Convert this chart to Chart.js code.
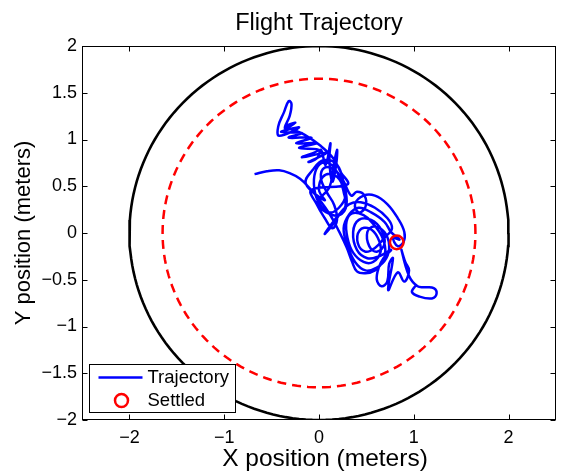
<!DOCTYPE html>
<html><head><meta charset="utf-8">
<script src="https://cdn.jsdelivr.net/npm/chart.js@4.4.0/dist/chart.umd.min.js"></script>
<style>html,body{margin:0;padding:0;background:#fff;} #wrap{width:561px;height:472px;}</style>
</head><body><div id="wrap"><canvas id="c" width="561" height="472"></canvas></div>
<script>
// Trajectory (meters)
const trajX = [-0.68,-0.55,-0.42,-0.31,-0.20,-0.10,0.01,0.12,0.21,0.29,0.35,0.40,
 0.49,0.59,0.67,0.70,0.66,0.57,0.47,0.35,0.29,0.30,0.36,0.47,0.57,0.65,0.62,0.53,0.43,0.41,0.49,0.59,
 0.69,0.77,0.72,0.59,0.44,0.32,0.23,0.15,0.06,
 0.13,0.21,0.28,0.26,0.21,0.13,0.03,-0.04,-0.05,0.00,0.11,0.21,0.28,0.23,0.14,0.04,0.00,0.06,
 -0.14,-0.07,0.05,0.19,0.26,0.29,0.21,0.08,-0.02,
 0.11,0.15,0.19,0.18,0.14,0.11,0.12,0.07,0.02,-0.02,
 -0.11,0.08,-0.18,0.00,-0.21,-0.03,-0.24,-0.08,-0.32,-0.18,-0.40,-0.21,-0.42,-0.43,-0.37,-0.32,-0.29,-0.31,-0.36,-0.25,-0.34,
 -0.15,0.02,0.15,0.23,0.30,
 -0.08,-0.02,0.06,0.14,0.19,0.16,0.08,0.02,0.06,0.17,0.25,
 0.34,0.40,0.48,0.49,0.42,0.38,0.47,0.59,0.72,0.83,0.90,0.89,0.83,0.78,0.85,
 0.76,0.69,0.55,0.42,0.32,0.26,0.30,0.38,0.49,0.61,0.71,0.74,0.69,0.58,0.51,0.53,0.61,0.69,0.66,0.55,0.42,0.36,0.40,0.51,0.63,
 0.76,0.68,0.63,0.61,0.66,0.72,0.74,0.78,0.73,0.83,0.90,0.95,0.91,0.87,0.95,1.04,1.12,1.21,1.24,1.19,1.06,0.98,1.03];
const trajY = [0.63,0.66,0.67,0.64,0.58,0.48,0.35,0.19,0.02,-0.15,-0.31,-0.41,
 -0.43,-0.40,-0.31,-0.18,-0.03,0.10,0.19,0.21,0.12,-0.05,-0.21,-0.31,-0.31,-0.20,-0.05,0.05,0.03,-0.11,-0.20,-0.16,
 -0.05,0.05,0.16,0.27,0.33,0.31,0.22,0.12,-0.01,
 0.07,0.19,0.29,0.44,0.61,0.73,0.75,0.65,0.48,0.32,0.22,0.27,0.40,0.55,0.63,0.60,0.46,0.35,
 0.53,0.67,0.78,0.73,0.53,0.30,0.19,0.22,0.32,
 0.49,0.70,0.89,0.72,0.55,0.78,0.96,0.73,0.89,0.80,
 0.76,0.86,0.81,0.89,0.91,0.96,0.96,1.02,1.02,1.07,1.08,1.13,1.04,1.14,1.29,1.41,1.38,1.25,1.12,1.18,1.14,
 1.05,0.93,0.80,0.65,0.52,
 0.46,0.30,0.16,0.05,0.14,0.30,0.44,0.59,0.70,0.67,0.57,
 0.40,0.44,0.40,0.28,0.22,0.31,0.40,0.40,0.31,0.16,0.01,-0.10,-0.14,-0.05,-0.07,
 0.01,0.12,0.22,0.27,0.20,0.05,-0.13,-0.31,-0.40,-0.37,-0.27,-0.13,0.01,0.07,0.01,-0.14,-0.20,-0.12,0.03,0.14,0.14,0.01,-0.18,-0.27,-0.25,
 -0.18,-0.27,-0.37,-0.50,-0.57,-0.52,-0.33,-0.27,-0.61,-0.42,-0.52,-0.40,-0.31,-0.18,-0.46,-0.57,-0.58,-0.59,-0.65,-0.70,-0.68,-0.63,-0.55];
const settledX = [0.82];
const settledY = [-0.10];
const boundaryRadius = 2.0;
const safeRadius = 1.65;
const xTicks = [-2,-1,0,1,2];
const yTicks = [-2,-1.5,-1,-0.5,0,0.5,1,1.5,2];
const seriesNames = ['Trajectory','Settled'];
const chartTitle = 'Flight Trajectory';
const xTitle = 'X position (meters)';
const yTitle = 'Y position (meters)';

const FONT = '"Liberation Sans", Arial, Helvetica, sans-serif';

function circlePts(r){
  const pts=[];
  for(let k=0;k<=180;k++){const a=k*2*Math.PI/180; pts.push({x:r*Math.cos(a), y:r*Math.sin(a)});}
  return pts;
}
const fmt = v => (v<0 ? '\u2212'+Math.abs(v) : String(v));

const frameTicks = {
  id:'frameTicks',
  afterDatasetsDraw(chart){
    const {ctx, chartArea:a, scales:{x,y}} = chart;
    ctx.save();
    ctx.strokeStyle='#000'; ctx.lineWidth=1;
    const L=Math.round(a.left)+0.5, R=Math.round(a.right)-0.5, T=Math.round(a.top)+0.5, B=Math.round(a.bottom)-0.5;
    ctx.strokeRect(L,T,R-L,B-T);
    ctx.beginPath();
    const tl=5;
    xTicks.forEach(v=>{const p=Math.round(x.getPixelForValue(v))+0.5; ctx.moveTo(p,B); ctx.lineTo(p,B-tl); ctx.moveTo(p,T); ctx.lineTo(p,T+tl);});
    yTicks.forEach(v=>{const p=Math.round(y.getPixelForValue(v))+0.5; ctx.moveTo(L,p); ctx.lineTo(L+tl,p); ctx.moveTo(R,p); ctx.lineTo(R-tl,p);});
    ctx.stroke();
    ctx.restore();
  },
  afterDraw(chart){
    const {ctx, chartArea:a} = chart;
    ctx.save();
    ctx.fillStyle='#000'; ctx.font='23.5px '+FONT; ctx.textAlign='center'; ctx.textBaseline='alphabetic';
    ctx.fillText(chartTitle, (a.left+a.right)/2, 30);
    ctx.font='24.5px '+FONT;
    ctx.fillText(xTitle, (a.left+a.right)/2 + 6, 466);
    const bx=Math.round(a.left)+7.5, by=Math.round(a.bottom)-55.5, bw=146, bh=48;
    ctx.fillStyle='#fff'; ctx.fillRect(bx,by,bw,bh);
    ctx.strokeStyle='#000'; ctx.lineWidth=1; ctx.strokeRect(bx,by,bw,bh);
    const ds = chart.data.datasets;
    ctx.strokeStyle=ds[0].borderColor; ctx.lineWidth=2.5;
    ctx.beginPath(); ctx.moveTo(bx+9,by+13); ctx.lineTo(bx+53,by+13); ctx.stroke();
    ctx.strokeStyle=ds[1].pointBorderColor; ctx.lineWidth=2.5;
    ctx.beginPath(); ctx.arc(bx+32,by+36,6.5,0,2*Math.PI); ctx.stroke();
    ctx.fillStyle='#000'; ctx.font='18.5px '+FONT; ctx.textBaseline='middle'; ctx.textAlign='left';
    ctx.fillText(seriesNames[0], bx+58, by+13);
    ctx.fillText(seriesNames[1], bx+58, by+36);
    ctx.restore();
  }
};

new Chart(document.getElementById('c'), {
  type:'scatter',
  data:{datasets:[
    {label:seriesNames[0], data:trajX.map((v,i)=>({x:v,y:trajY[i]})), showLine:true, borderColor:'#0000ff', borderWidth:2.5, pointRadius:0, pointHoverRadius:0, tension:0.4, order:1},
    {label:seriesNames[1], data:settledX.map((v,i)=>({x:v,y:settledY[i]})), pointRadius:6.8, pointHoverRadius:6.8, pointBorderWidth:2.5, pointBorderColor:'#ff0000', pointBackgroundColor:'rgba(0,0,0,0)', borderColor:'#ff0000', order:0},
    {label:'safe', data:circlePts(safeRadius), showLine:true, borderColor:'#ff0000', borderWidth:2.5, borderDash:[9,6], pointRadius:0, pointHoverRadius:0, tension:0, order:2},
    {label:'boundary', data:circlePts(boundaryRadius), showLine:true, borderColor:'#000000', borderWidth:2.6, pointRadius:0, pointHoverRadius:0, tension:0, order:3}
  ]},
  options:{
    responsive:false, animation:false, devicePixelRatio:1, events:[],
    layout:{autoPadding:false, padding:{left:0,right:5,top:46,bottom:0}},
    plugins:{ legend:{display:false}, tooltip:{enabled:false}, title:{display:false} },
    scales:{
      x:{type:'linear', min:-2.5, max:2.5,
        afterBuildTicks:s=>{s.ticks=xTicks.map(v=>({value:v}));},
        afterFit:s=>{s.height=52; s.paddingLeft=0; s.paddingRight=0;},
        grid:{display:false, drawTicks:false}, border:{display:false},
        ticks:{padding:7, color:'#000', autoSkip:false, maxRotation:0, font:{family:FONT,size:18}, callback:fmt},
        title:{display:false, text:xTitle}
      },
      y:{type:'linear', min:-2, max:2,
        afterBuildTicks:s=>{s.ticks=yTicks.map(v=>({value:v}));},
        afterFit:s=>{s.width=82; s.paddingTop=0; s.paddingBottom=0;},
        grid:{display:false, drawTicks:false}, border:{display:false},
        ticks:{padding:5, color:'#000', autoSkip:false, font:{family:FONT,size:18}, callback:fmt},
        title:{display:true, text:yTitle, color:'#000', font:{family:FONT,size:22,lineHeight:1}, padding:{top:13,bottom:0}}
      }
    }
  },
  plugins:[frameTicks]
});
</script></body></html>
